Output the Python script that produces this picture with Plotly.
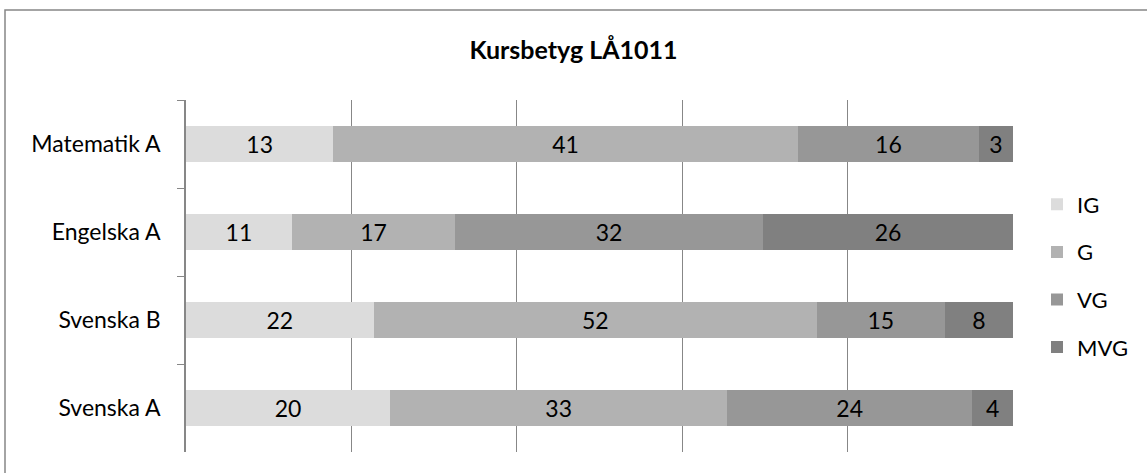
import plotly.graph_objects as go

categories = ["Matematik A", "Engelska A", "Svenska B", "Svenska A"]
series_names = ["IG", "G", "VG", "MVG"]
ig = [13, 11, 22, 20]
g = [41, 17, 52, 33]
vg = [16, 32, 15, 24]
mvg = [3, 26, 8, 4]
colors = ["#dcdcdc", "#b2b2b2", "#979797", "#808080"]
title = "Kursbetyg LÅ1011"

FONT = "Lato, 'Open Sans', sans-serif"
W, H = 1147, 473
L, R, T, B = 186, 1013, 100, 452

fig = go.Figure()
for name, vals, col in zip(series_names, [ig, g, vg, mvg], colors):
    fig.add_trace(go.Bar(
        y=categories, x=vals, name=name, orientation="h",
        marker=dict(color=col, line=dict(width=0)),
        text=[str(v) for v in vals], textposition="inside",
        insidetextanchor="middle",
        textfont=dict(family=FONT, size=23, color="#000000"),
        legendgroup=name,
    ))

fig.update_layout(
    barmode="stack", barnorm="percent", bargap=0.6,
    width=W, height=H,
    margin=dict(l=L, r=W - R, t=T, b=H - B, pad=0, autoexpand=False),
    paper_bgcolor="white", plot_bgcolor="white",
    title=dict(text="<b>" + title + "</b>", x=0.5, xanchor="center",
               y=1 - 50 / H, yanchor="middle",
               font=dict(family=FONT, size=25, color="#000000")),
    uniformtext=dict(mode=False),
    showlegend=True,
    legend=dict(x=(1037 - L) / (R - L), xanchor="left", y=(B - 276) / (B - T),
                yanchor="middle",
                traceorder="grouped", tracegroupgap=16,
                font=dict(family=FONT, size=22, color="#000000"),
                itemwidth=30, bgcolor="rgba(0,0,0,0)"),
    xaxis=dict(range=[0, 100], tickvals=[0, 20, 40, 60, 80, 100],
               showticklabels=False, showgrid=True, gridcolor="#878787",
               gridwidth=1, zeroline=False, showline=False, ticks=""),
    yaxis=dict(autorange="reversed", showline=True, linecolor="#878787",
               linewidth=1.5, ticks="outside", tickson="boundaries",
               ticklen=7, tickcolor="#878787", showgrid=False,
               ticklabelstandoff=19,
               tickfont=dict(family=FONT, size=23, color="#000000")),
)

# outer chart border
fig.add_shape(type="rect", xref="paper", yref="paper",
              x0=(5 - L) / (R - L), x1=(1170 - L) / (R - L),
              y0=(B - 490) / (B - T), y1=(B - 10) / (B - T),
              line=dict(color="#878787", width=1.5), fillcolor="rgba(0,0,0,0)",
              layer="below")

fig.write_html("out.html", config={"displayModeBar": False},
               post_script="document.body.style.margin='0';document.body.style.overflow='hidden';")
